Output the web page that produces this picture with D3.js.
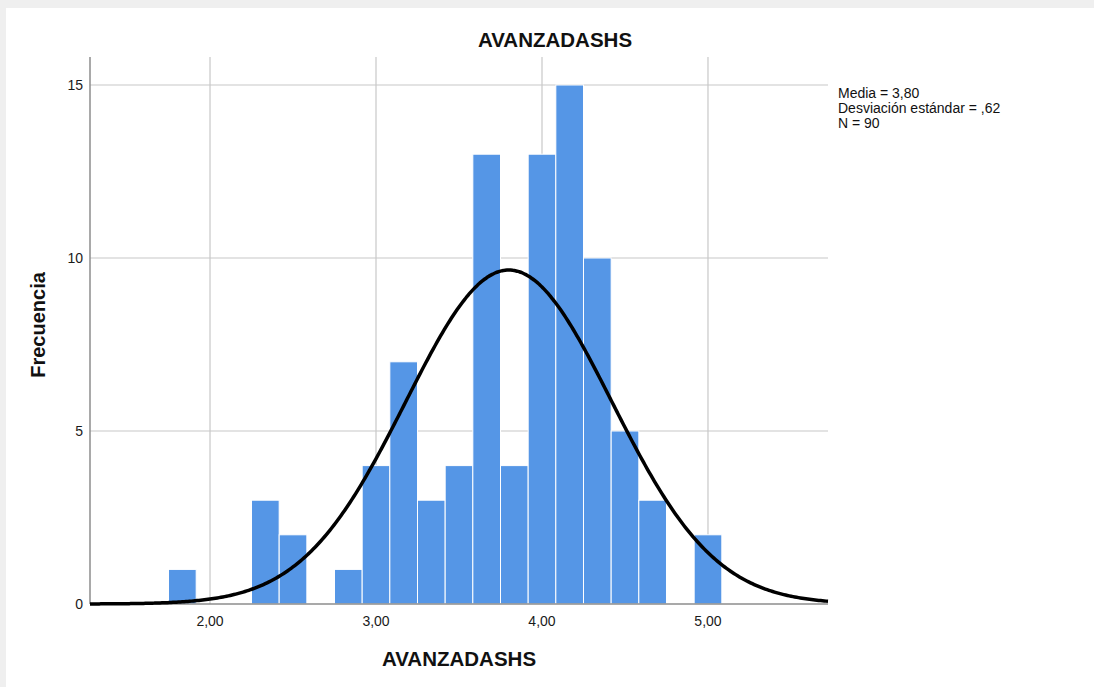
<!DOCTYPE html>
<html><head><meta charset="utf-8">
<script src="https://cdn.jsdelivr.net/npm/d3@7"></script>
<style>body{margin:0;background:#efefef;}svg{display:block;font-family:"Liberation Sans",Arial,sans-serif;}</style>
</head><body>
<script>
const binStarts = [1.75,1.9167,2.0833,2.25,2.4167,2.5833,2.75,2.9167,3.0833,3.25,3.4167,3.5833,3.75,3.9167,4.0833,4.25,4.4167,4.5833,4.75,4.9167];
const counts    = [1,0,0,3,2,0,1,4,7,3,4,13,4,13,15,10,5,3,0,2];
const binWidth = 1/6;
const xTicks = [2,3,4,5];
const xTickLabels = ["2,00","3,00","4,00","5,00"];
const yTicks = [0,5,10,15];
const stats = ["Media = 3,80","Desviación estándar = ,62","N = 90"];
const mean = 3.80, sd = 0.62, N = 90;

const W = 1094, H = 687;
const svg = d3.select("body").append("svg").attr("width",W).attr("height",H);
svg.append("rect").attr("x",6).attr("y",8).attr("width",W-6).attr("height",H-8).attr("fill","#fff");

const x = d3.scaleLinear().domain([1.277,5.723]).range([90,828]);
const y = d3.scaleLinear().domain([0,15]).range([604,85]);
const plotTop = 57;

// grid
svg.append("g").selectAll("line").data(xTicks).join("line")
  .attr("x1",d=>x(d)).attr("x2",d=>x(d)).attr("y1",plotTop).attr("y2",y(0))
  .attr("stroke","#c8c8c8").attr("stroke-width",1.2);
svg.append("g").selectAll("line").data(yTicks.filter(d=>d>0)).join("line")
  .attr("x1",90).attr("x2",828).attr("y1",d=>y(d)).attr("y2",d=>y(d))
  .attr("stroke","#c8c8c8").attr("stroke-width",1.2);

// bars
const bins = binStarts.map((s,i)=>({s, c:counts[i]})).filter(d=>d.c>0);
svg.append("g").selectAll("rect").data(bins).join("rect")
  .attr("x",d=>x(d.s)).attr("width",d=>x(d.s+binWidth)-x(d.s))
  .attr("y",d=>y(d.c)).attr("height",d=>y(0)-y(d.c))
  .attr("fill","#5596e6").attr("stroke","#ffffff").attr("stroke-width",1);

// axes lines
svg.append("line").attr("x1",90).attr("x2",90).attr("y1",plotTop).attr("y2",y(0)).attr("stroke","#8c8c8c").attr("stroke-width",1.5);
svg.append("line").attr("x1",90).attr("x2",828).attr("y1",y(0)).attr("y2",y(0)).attr("stroke","#8c8c8c").attr("stroke-width",1.5);

// normal curve
const pts = d3.range(0,401).map(i=>{const xv=1.277+(5.723-1.277)*i/400; return [xv, N*binWidth*Math.exp(-0.5*((xv-mean)/sd)**2)/(sd*Math.sqrt(2*Math.PI))];});
svg.append("path").datum(pts).attr("d",d3.line().x(d=>x(d[0])).y(d=>y(d[1])).curve(d3.curveBasis))
  .attr("fill","none").attr("stroke","#000").attr("stroke-width",3.5);

// tick labels
svg.append("g").selectAll("text").data(xTicks).join("text")
  .attr("x",d=>x(d)).attr("y",626).attr("text-anchor","middle").attr("font-size",14).attr("fill","#1a1a1a")
  .text((d,i)=>xTickLabels[i]);
svg.append("g").selectAll("text").data(yTicks).join("text")
  .attr("x",83).attr("y",d=>y(d)+5).attr("text-anchor","end").attr("font-size",14).attr("fill","#1a1a1a")
  .text(d=>d);

// titles
svg.append("text").attr("x",555).attr("y",47).attr("text-anchor","middle").attr("font-size",20.5).attr("font-weight","bold").attr("fill","#111").text("AVANZADASHS");
svg.append("text").attr("x",459).attr("y",666).attr("text-anchor","middle").attr("font-size",20.5).attr("font-weight","bold").attr("fill","#111").text("AVANZADASHS");
svg.append("text").attr("transform","translate(45,325) rotate(-90)").attr("text-anchor","middle").attr("font-size",20).attr("font-weight","bold").attr("fill","#111").text("Frecuencia");

// stats
svg.append("g").selectAll("text").data(stats).join("text")
  .attr("x",838).attr("y",(d,i)=>98+i*15).attr("font-size",14).attr("fill","#111").text(d=>d);
</script>
</body></html>
